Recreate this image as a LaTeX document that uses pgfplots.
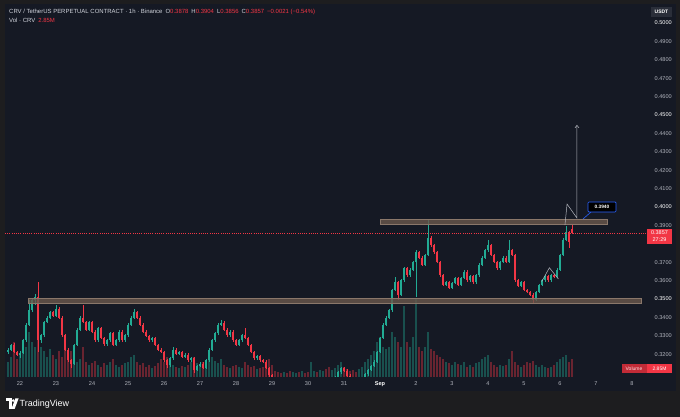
\documentclass[border=0pt]{standalone}
\usepackage{pgfplots}
\pgfplotsset{compat=1.18}
\usepackage{pgfplotstable}
\usepackage{fontspec}
\setmainfont{Liberation Sans}
\usetikzlibrary{arrows.meta}
\definecolor{outerbg}{HTML}{1D1D1F}
\definecolor{chartbg}{HTML}{151924}
\definecolor{cup}{HTML}{22AB94}
\definecolor{cdown}{HTML}{F23645}
\definecolor{tick}{HTML}{B2B5BE}
\definecolor{hdr}{HTML}{D1D4DC}
\definecolor{boxfill}{HTML}{6A584C}
\definecolor{boxdraw}{HTML}{8A776A}
\definecolor{tvblue}{HTML}{2962FF}
\definecolor{drawgray}{HTML}{B4B7BE}

\pgfplotstableread{
h o hi lo c v
-8 0.3210 0.3231 0.3202 0.3223 2.4
-6 0.3223 0.3258 0.3215 0.3250 3.2
-4 0.3250 0.3262 0.3204 0.3212 5.5
-2 0.3212 0.3220 0.3188 0.3196 2.8
0 0.3196 0.3215 0.3180 0.3207 3.5
2 0.3207 0.3285 0.3199 0.3277 4.0
4 0.3277 0.3367 0.3269 0.3359 4.7
6 0.3359 0.3495 0.3351 0.3440 7.1
8 0.3440 0.3503 0.3432 0.3495 5.5
10 0.3495 0.3525 0.3470 0.3511 4.7
12 0.3511 0.3592 0.3212 0.3277 11.9
14 0.3277 0.3312 0.3260 0.3304 4.7
16 0.3304 0.3383 0.3296 0.3375 4.0
18 0.3375 0.3405 0.3367 0.3397 3.2
20 0.3397 0.3437 0.3389 0.3429 4.4
22 0.3429 0.3437 0.3400 0.3408 3.5
24 0.3408 0.3467 0.3400 0.3446 2.8
26 0.3446 0.3454 0.3389 0.3397 4.0
28 0.3397 0.3405 0.3296 0.3304 3.2
30 0.3304 0.3312 0.3215 0.3223 4.4
32 0.3223 0.3231 0.3160 0.3168 3.5
34 0.3168 0.3176 0.3125 0.3147 4.0
36 0.3147 0.3258 0.3139 0.3250 3.2
38 0.3250 0.3340 0.3242 0.3332 2.4
40 0.3332 0.3405 0.3324 0.3397 2.8
42 0.3397 0.3467 0.3367 0.3375 4.7
44 0.3375 0.3383 0.3324 0.3332 2.4
46 0.3332 0.3383 0.3324 0.3375 1.9
48 0.3375 0.3383 0.3313 0.3321 2.2
50 0.3321 0.3329 0.3269 0.3277 2.5
52 0.3277 0.3350 0.3269 0.3342 1.9
54 0.3342 0.3350 0.3280 0.3288 1.6
56 0.3288 0.3296 0.3247 0.3255 2.2
58 0.3255 0.3285 0.3247 0.3277 1.9
60 0.3277 0.3323 0.3269 0.3315 2.4
62 0.3315 0.3323 0.3242 0.3250 2.8
64 0.3250 0.3285 0.3242 0.3277 1.9
66 0.3277 0.3329 0.3269 0.3321 1.6
68 0.3321 0.3329 0.3269 0.3277 1.9
70 0.3277 0.3312 0.3269 0.3304 2.2
72 0.3304 0.3367 0.3296 0.3359 2.4
74 0.3359 0.3405 0.3351 0.3397 3.2
76 0.3397 0.3446 0.3389 0.3429 3.5
78 0.3429 0.3437 0.3389 0.3397 2.4
80 0.3397 0.3405 0.3351 0.3359 1.9
82 0.3359 0.3367 0.3313 0.3321 2.2
84 0.3321 0.3329 0.3291 0.3299 1.6
86 0.3299 0.3307 0.3269 0.3277 1.9
88 0.3277 0.3296 0.3269 0.3288 1.4
90 0.3288 0.3296 0.3242 0.3250 1.7
92 0.3250 0.3258 0.3215 0.3223 2.2
94 0.3223 0.3231 0.3204 0.3212 2.8
96 0.3212 0.3220 0.3160 0.3168 2.4
98 0.3168 0.3176 0.3125 0.3141 3.2
100 0.3141 0.3187 0.3133 0.3179 2.2
102 0.3179 0.3239 0.3171 0.3223 1.9
104 0.3223 0.3231 0.3193 0.3201 1.6
106 0.3201 0.3220 0.3193 0.3212 1.4
108 0.3212 0.3220 0.3177 0.3185 1.7
110 0.3185 0.3204 0.3177 0.3196 1.6
112 0.3196 0.3204 0.3160 0.3168 1.9
114 0.3168 0.3187 0.3160 0.3179 2.4
116 0.3179 0.3187 0.3098 0.3114 3.2
118 0.3114 0.3144 0.3106 0.3136 2.2
120 0.3136 0.3155 0.3128 0.3147 1.9
122 0.3147 0.3155 0.3117 0.3125 2.4
124 0.3125 0.3176 0.3117 0.3168 2.1
126 0.3168 0.3231 0.3160 0.3223 2.8
128 0.3223 0.3285 0.3215 0.3277 3.2
130 0.3277 0.3323 0.3269 0.3315 2.5
132 0.3315 0.3367 0.3307 0.3359 2.2
134 0.3359 0.3386 0.3351 0.3370 2.8
136 0.3370 0.3378 0.3324 0.3332 1.9
138 0.3332 0.3340 0.3296 0.3304 1.6
140 0.3304 0.3329 0.3296 0.3321 1.4
142 0.3321 0.3329 0.3269 0.3277 1.7
144 0.3277 0.3285 0.3242 0.3250 1.9
146 0.3250 0.3285 0.3242 0.3277 1.6
148 0.3277 0.3312 0.3269 0.3304 1.4
150 0.3304 0.3342 0.3280 0.3288 2.4
152 0.3288 0.3296 0.3242 0.3250 1.9
154 0.3250 0.3258 0.3204 0.3212 1.6
156 0.3212 0.3220 0.3171 0.3179 1.7
158 0.3179 0.3198 0.3171 0.3190 1.3
160 0.3190 0.3198 0.3160 0.3168 1.4
162 0.3168 0.3176 0.3150 0.3158 1.6
164 0.3158 0.3166 0.3117 0.3125 2.2
166 0.3125 0.3133 0.3060 0.3087 2.8
168 0.3087 0.3095 0.3050 0.3060 1.9
170 0.3060 0.3066 0.3042 0.3050 0.9
172 0.3050 0.3058 0.3032 0.3040 0.8
174 0.3040 0.3048 0.3022 0.3030 0.6
176 0.3030 0.3053 0.3022 0.3045 0.8
178 0.3045 0.3053 0.3027 0.3035 0.6
180 0.3035 0.3043 0.3012 0.3020 0.9
182 0.3020 0.3038 0.3012 0.3030 0.8
184 0.3030 0.3048 0.3022 0.3040 0.6
186 0.3040 0.3048 0.3027 0.3035 0.8
188 0.3035 0.3053 0.3027 0.3045 0.9
190 0.3045 0.3053 0.3022 0.3030 0.6
192 0.3030 0.3038 0.3017 0.3025 0.8
194 0.3025 0.3048 0.3017 0.3040 2.4
196 0.3040 0.3058 0.3032 0.3050 0.9
198 0.3050 0.3058 0.3037 0.3045 0.8
200 0.3045 0.3063 0.3037 0.3055 1.1
202 0.3055 0.3068 0.3047 0.3060 0.9
204 0.3060 0.3068 0.3042 0.3050 1.3
206 0.3050 0.3058 0.3032 0.3040 1.6
208 0.3040 0.3063 0.3032 0.3055 1.1
210 0.3055 0.3080 0.3047 0.3065 1.4
212 0.3065 0.3111 0.3057 0.3103 1.9
214 0.3103 0.3133 0.3095 0.3125 2.4
216 0.3125 0.3133 0.3101 0.3109 1.6
218 0.3109 0.3117 0.3074 0.3082 1.3
220 0.3082 0.3090 0.3052 0.3060 0.9
222 0.3060 0.3068 0.3042 0.3050 1.1
224 0.3050 0.3058 0.3037 0.3045 0.8
226 0.3045 0.3063 0.3037 0.3055 1.3
228 0.3055 0.3073 0.3047 0.3065 1.6
230 0.3065 0.3100 0.3057 0.3092 2.4
232 0.3092 0.3122 0.3084 0.3114 2.8
234 0.3114 0.3144 0.3106 0.3136 3.5
236 0.3136 0.3166 0.3128 0.3158 4.0
238 0.3158 0.3220 0.3150 0.3212 5.5
240 0.3212 0.3296 0.3204 0.3288 6.3
242 0.3288 0.3367 0.3280 0.3359 4.7
244 0.3359 0.3405 0.3351 0.3397 4.4
246 0.3397 0.3448 0.3389 0.3440 4.7
248 0.3440 0.3557 0.3432 0.3549 7.1
250 0.3549 0.3620 0.3541 0.3592 6.3
252 0.3592 0.3600 0.3495 0.3522 5.5
254 0.3522 0.3611 0.3514 0.3603 4.7
256 0.3603 0.3676 0.3595 0.3668 11.1
258 0.3668 0.3676 0.3622 0.3630 5.5
260 0.3630 0.3666 0.3622 0.3658 4.7
262 0.3658 0.3709 0.3650 0.3701 6.3
264 0.3701 0.3766 0.3511 0.3755 12.2
266 0.3755 0.3763 0.3715 0.3723 4.7
268 0.3723 0.3731 0.3677 0.3685 4.0
270 0.3685 0.3747 0.3677 0.3739 4.7
272 0.3739 0.3935 0.3731 0.3832 7.1
274 0.3832 0.3840 0.3785 0.3793 4.4
276 0.3793 0.3801 0.3747 0.3755 4.0
278 0.3755 0.3763 0.3693 0.3701 3.5
280 0.3701 0.3709 0.3622 0.3630 3.2
282 0.3630 0.3638 0.3568 0.3576 2.8
284 0.3576 0.3600 0.3568 0.3592 2.4
286 0.3592 0.3600 0.3552 0.3560 2.2
288 0.3560 0.3595 0.3552 0.3587 1.9
290 0.3587 0.3622 0.3579 0.3614 2.4
292 0.3614 0.3622 0.3568 0.3576 2.1
294 0.3576 0.3622 0.3568 0.3614 1.9
296 0.3614 0.3655 0.3606 0.3647 2.4
298 0.3647 0.3655 0.3595 0.3603 1.6
300 0.3603 0.3633 0.3595 0.3625 1.9
302 0.3625 0.3633 0.3584 0.3592 1.6
304 0.3592 0.3638 0.3584 0.3630 2.2
306 0.3630 0.3693 0.3622 0.3685 2.4
308 0.3685 0.3731 0.3677 0.3723 2.8
310 0.3723 0.3774 0.3715 0.3766 3.2
312 0.3766 0.3821 0.3758 0.3793 3.5
314 0.3793 0.3801 0.3731 0.3739 2.4
316 0.3739 0.3747 0.3693 0.3701 1.9
318 0.3701 0.3709 0.3660 0.3668 1.6
320 0.3668 0.3709 0.3660 0.3701 1.9
322 0.3701 0.3731 0.3693 0.3723 1.7
324 0.3723 0.3731 0.3693 0.3701 1.9
326 0.3701 0.3821 0.3693 0.3766 2.8
328 0.3766 0.3774 0.3731 0.3739 4.0
330 0.3739 0.3747 0.3595 0.3603 2.4
332 0.3603 0.3611 0.3563 0.3571 1.9
334 0.3571 0.3600 0.3563 0.3592 1.6
336 0.3592 0.3600 0.3541 0.3549 1.9
338 0.3549 0.3557 0.3530 0.3538 2.4
340 0.3538 0.3546 0.3514 0.3522 2.2
342 0.3522 0.3530 0.3478 0.3495 2.5
344 0.3495 0.3546 0.3487 0.3538 1.9
346 0.3538 0.3584 0.3530 0.3576 1.6
348 0.3576 0.3611 0.3568 0.3603 1.9
350 0.3603 0.3633 0.3595 0.3625 1.6
352 0.3625 0.3633 0.3595 0.3603 1.4
354 0.3603 0.3638 0.3595 0.3630 1.6
356 0.3630 0.3638 0.3612 0.3620 1.9
358 0.3620 0.3666 0.3612 0.3658 2.4
360 0.3658 0.3747 0.3650 0.3739 2.8
362 0.3739 0.3829 0.3731 0.3821 3.2
364 0.3821 0.3897 0.3813 0.3864 3.5
366 0.3864 0.3872 0.3777 0.3810 2.4
368 0.3878 0.3904 0.3856 0.3857 2.85
}\candles

\begin{document}
\begin{tikzpicture}
\fill[outerbg] (0,0) rectangle (680bp,417bp);
\fill[chartbg] (5bp,26bp) rectangle (676bp,413bp);

% volume
\begin{axis}[at={(5bp,40bp)}, anchor=south west, width=641bp, height=373bp, scale only axis,
  xmin=-10, xmax=417.33, ymin=0, ymax=58.5, hide axis, unbounded coords=discard]
\addplot[ycomb, mark=none, line width=2.0bp, draw=cup, draw opacity=0.38]
  table[x=h, y expr={\thisrow{c}>=\thisrow{o} ? \thisrow{v} : nan}] {\candles};
\addplot[ycomb, mark=none, line width=2.0bp, draw=cdown, draw opacity=0.38]
  table[x=h, y expr={\thisrow{c}<\thisrow{o} ? \thisrow{v} : nan}] {\candles};
\end{axis}

% price
\begin{axis}[at={(5bp,40bp)}, anchor=south west, width=641bp, height=373bp, scale only axis,
  xmin=-10, xmax=417.33, ymin=0.30761, ymax=0.51033,
  unbounded coords=discard,
  axis line style={draw=none}, tick style={draw=none}, major tick length=0pt,
  xtick={0,24,48,72,96,120,144,168,192,216,240,264,288,312,336,360,384,408},
  xticklabels={22,23,24,25,26,27,28,29,30,31,\textcolor{white}{\bfseries Sep},2,3,4,5,6,7,8},
  xticklabel style={anchor=center, yshift=-7bp, inner sep=0pt, font=\fontsize{5.6}{6}\selectfont, text=tick},
  ytick={0.32,0.33,0.34,0.35,0.36,0.37,0.39,0.40,0.41,0.42,0.43,0.44,0.45,0.46,0.47,0.48,0.49,0.50},
  yticklabels={0.3200,0.3300,0.3400,\textcolor{white}{0.3500},0.3600,0.3700,0.3900,\textcolor{white}{0.4000},0.4100,0.4200,0.4300,0.4400,\textcolor{white}{0.4500},0.4600,0.4700,0.4800,0.4900,\textcolor{white}{0.5000}},
  yticklabel pos=right,
  yticklabel style={anchor=east, xshift=26bp, inner sep=0pt, font=\fontsize{5.6}{6}\selectfont, text=tick},
  candle/.style={draw=none, mark=none, forget plot, error bars/.cd, y dir=both, y explicit, error mark=none},
]
% wicks
\addplot[candle, error bar style={line width=0.6bp, draw=cup, solid}]
  table[x=h, y expr={\thisrow{c}>=\thisrow{o} ? (\thisrow{hi}+\thisrow{lo})/2 : nan},
        y error expr={(\thisrow{hi}-\thisrow{lo})/2}] {\candles};
\addplot[candle, error bar style={line width=0.6bp, draw=cdown, solid}]
  table[x=h, y expr={\thisrow{c}<\thisrow{o} ? (\thisrow{hi}+\thisrow{lo})/2 : nan},
        y error expr={(\thisrow{hi}-\thisrow{lo})/2}] {\candles};
% bodies
\addplot[candle, error bar style={line width=2.0bp, draw=cup, solid}]
  table[x=h, y expr={\thisrow{c}>=\thisrow{o} ? (\thisrow{o}+\thisrow{c})/2 : nan},
        y error expr={max(abs(\thisrow{c}-\thisrow{o})/2,0.00015)}] {\candles};
\addplot[candle, error bar style={line width=2.0bp, draw=cdown, solid}]
  table[x=h, y expr={\thisrow{c}<\thisrow{o} ? (\thisrow{o}+\thisrow{c})/2 : nan},
        y error expr={max(abs(\thisrow{c}-\thisrow{o})/2,0.00015)}] {\candles};

% current price line
\addplot[cdown, line width=0.4bp, dash pattern=on 0.8bp off 1.4bp] coordinates {(-10,0.3857) (417.33,0.3857)};
% zones
\addplot[fill=boxfill, fill opacity=0.8, draw=boxdraw, line width=0.6bp] coordinates {(240,0.3908) (391.3,0.3908) (391.3,0.3935) (240,0.3935)} -- cycle;
\addplot[fill=boxfill, fill opacity=0.8, draw=boxdraw, line width=0.6bp] coordinates {(5.3,0.3478) (414,0.3478) (414,0.3505) (5.3,0.3505)} -- cycle;
% projection drawings
\addplot[drawgray, line width=0.5bp] coordinates {(347.8,0.3594) (352.9,0.3670) (358.9,0.3609)};
\addplot[drawgray, line width=0.5bp, -{Straight Barb[length=2.5bp,width=4bp]}] coordinates {(363.3,0.3902) (364.7,0.4016) (371.3,0.3940) (371.3,0.4446)};
\end{axis}

\begin{scope}[shift={(0,417bp)}, x=1bp, y=-1bp]
% header
\node[anchor=west, inner sep=0pt, font=\fontsize{6}{7}\selectfont, text=hdr] at (9,11.5)
 {CRV / TetherUS PERPETUAL CONTRACT · 1h · Binance\enspace O\textcolor{cdown}{0.3878}\enspace H\textcolor{cdown}{0.3904}\enspace L\textcolor{cdown}{0.3856}\enspace C\textcolor{cdown}{0.3857}\enspace\textcolor{cdown}{−0.0021 (−0.54\%)}};
\node[anchor=west, inner sep=0pt, font=\fontsize{6}{7}\selectfont, text=hdr] at (9,20.5)
 {Vol · CRV\enspace\textcolor{cdown}{2.85M}};
% USDT
\fill[fill={rgb,255:red,42;green,46;blue,57}] (651,7) rectangle (672,17);
\node[inner sep=0pt, font=\fontsize{5}{6}\selectfont\bfseries, text=white] at (661.5,12) {USDT};
% current price tag
\fill[cdown] (647,229) rectangle (672,244);
\node[inner sep=0pt, font=\fontsize{5.5}{6}\selectfont, text=white] at (659.5,233) {0.3857};
\node[inner sep=0pt, font=\fontsize{5.5}{6}\selectfont, text=white] at (659.5,240) {27:29};
% volume tag
\fill[cdown!80!black] (622,364) rectangle (646.5,373);
\fill[cdown] (647,364) rectangle (672,373);
\node[inner sep=0pt, font=\fontsize{5}{6}\selectfont, text=white!85!cdown] at (634,368.5) {Volume};
\node[inner sep=0pt, font=\fontsize{5}{6}\selectfont, text=white] at (659.5,368.5) {2.85M};
% callout
\draw[tvblue, line width=0.6bp] (591,212) -- (583,219);
\filldraw[fill=black, draw=tvblue, line width=0.7bp, rounded corners=1bp] (588,202) rectangle (616,212);
\node[inner sep=0pt, font=\fontsize{4.8}{5}\selectfont\bfseries, text=white] at (602,207) {0.3940};
% logo
\fill[white] (6,398.5) rectangle (11.5,401.5);
\fill[white] (8.6,398.5) rectangle (11.5,409);
\fill[white] (13.2,400.6) circle (1.4);
\fill[white] (15.3,398.5) -- (18.6,398.5) -- (14.6,409) -- (11.4,409) -- cycle;
\node[anchor=west, inner sep=0pt, font=\fontsize{9}{10}\selectfont, text=white] at (19.5,403.8) {TradingView};
\end{scope}
\end{tikzpicture}
\end{document}
